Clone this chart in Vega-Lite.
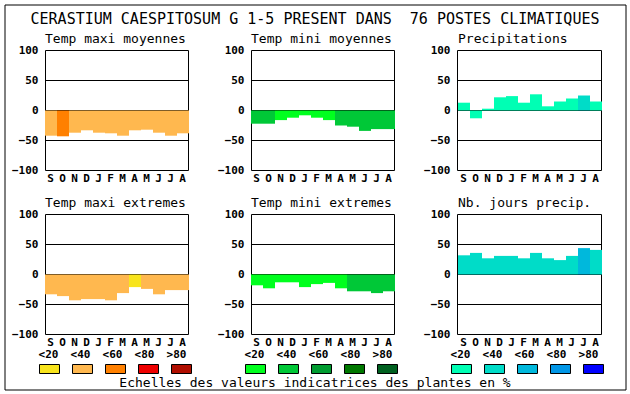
{
"$schema": "https://vega.github.io/schema/vega-lite/v6.json",
"width": 630, "height": 394,
"autosize": {"type": "fit", "contains": "padding"},
"padding": {"left": 4.5, "top": 4.5, "right": 4.5, "bottom": 4.5},
"background": "white",
"config": {
 "view": {"stroke": "black", "strokeWidth": 1},
 "axis": {"translate": 0, "zindex": 1, "grid": false, "domainColor": "black", "domainWidth": 1, "tickColor": "black", "tickWidth": 1, "labelColor": "black", "labelFont": "DejaVu Sans Mono", "labelFontWeight": "bold", "labelFontSize": 11, "titleFont": "DejaVu Sans Mono", "titleFontWeight": "normal", "titleFontSize": 13, "titleColor": "black", "labelAngle": 0}
},
"datasets": {
 "mesures": [
  {"panneau":"Temp maxi moyennes","mois":"Sep","valeur":-42,"classe":"<40"},
  {"panneau":"Temp maxi moyennes","mois":"Oct","valeur":-43,"classe":"<60"},
  {"panneau":"Temp maxi moyennes","mois":"Nov","valeur":-37,"classe":"<40"},
  {"panneau":"Temp maxi moyennes","mois":"Dec","valeur":-33,"classe":"<40"},
  {"panneau":"Temp maxi moyennes","mois":"Jan","valeur":-37,"classe":"<40"},
  {"panneau":"Temp maxi moyennes","mois":"Fev","valeur":-38,"classe":"<40"},
  {"panneau":"Temp maxi moyennes","mois":"Mar","valeur":-42,"classe":"<40"},
  {"panneau":"Temp maxi moyennes","mois":"Avr","valeur":-33,"classe":"<40"},
  {"panneau":"Temp maxi moyennes","mois":"Mai","valeur":-32,"classe":"<40"},
  {"panneau":"Temp maxi moyennes","mois":"Jun","valeur":-37,"classe":"<40"},
  {"panneau":"Temp maxi moyennes","mois":"Jul","valeur":-42,"classe":"<40"},
  {"panneau":"Temp maxi moyennes","mois":"Aou","valeur":-38,"classe":"<40"},
  {"panneau":"Temp mini moyennes","mois":"Sep","valeur":-22,"classe":"<40"},
  {"panneau":"Temp mini moyennes","mois":"Oct","valeur":-22,"classe":"<40"},
  {"panneau":"Temp mini moyennes","mois":"Nov","valeur":-16,"classe":"<20"},
  {"panneau":"Temp mini moyennes","mois":"Dec","valeur":-12,"classe":"<20"},
  {"panneau":"Temp mini moyennes","mois":"Jan","valeur":-8,"classe":"<20"},
  {"panneau":"Temp mini moyennes","mois":"Fev","valeur":-12,"classe":"<20"},
  {"panneau":"Temp mini moyennes","mois":"Mar","valeur":-16,"classe":"<20"},
  {"panneau":"Temp mini moyennes","mois":"Avr","valeur":-25,"classe":"<40"},
  {"panneau":"Temp mini moyennes","mois":"Mai","valeur":-27,"classe":"<40"},
  {"panneau":"Temp mini moyennes","mois":"Jun","valeur":-34,"classe":"<40"},
  {"panneau":"Temp mini moyennes","mois":"Jul","valeur":-31,"classe":"<40"},
  {"panneau":"Temp mini moyennes","mois":"Aou","valeur":-31,"classe":"<40"},
  {"panneau":"Precipitations","mois":"Sep","valeur":13,"classe":"<20"},
  {"panneau":"Precipitations","mois":"Oct","valeur":-13,"classe":"<20"},
  {"panneau":"Precipitations","mois":"Nov","valeur":3,"classe":"<20"},
  {"panneau":"Precipitations","mois":"Dec","valeur":22,"classe":"<20"},
  {"panneau":"Precipitations","mois":"Jan","valeur":24,"classe":"<20"},
  {"panneau":"Precipitations","mois":"Fev","valeur":13,"classe":"<20"},
  {"panneau":"Precipitations","mois":"Mar","valeur":27,"classe":"<20"},
  {"panneau":"Precipitations","mois":"Avr","valeur":7,"classe":"<20"},
  {"panneau":"Precipitations","mois":"Mai","valeur":15,"classe":"<20"},
  {"panneau":"Precipitations","mois":"Jun","valeur":20,"classe":"<20"},
  {"panneau":"Precipitations","mois":"Jul","valeur":25,"classe":"<40"},
  {"panneau":"Precipitations","mois":"Aou","valeur":15,"classe":"<20"},
  {"panneau":"Temp maxi extremes","mois":"Sep","valeur":-33,"classe":"<40"},
  {"panneau":"Temp maxi extremes","mois":"Oct","valeur":-36,"classe":"<40"},
  {"panneau":"Temp maxi extremes","mois":"Nov","valeur":-43,"classe":"<40"},
  {"panneau":"Temp maxi extremes","mois":"Dec","valeur":-41,"classe":"<40"},
  {"panneau":"Temp maxi extremes","mois":"Jan","valeur":-41,"classe":"<40"},
  {"panneau":"Temp maxi extremes","mois":"Fev","valeur":-43,"classe":"<40"},
  {"panneau":"Temp maxi extremes","mois":"Mar","valeur":-31,"classe":"<40"},
  {"panneau":"Temp maxi extremes","mois":"Avr","valeur":-21,"classe":"<20"},
  {"panneau":"Temp maxi extremes","mois":"Mai","valeur":-24,"classe":"<40"},
  {"panneau":"Temp maxi extremes","mois":"Jun","valeur":-33,"classe":"<40"},
  {"panneau":"Temp maxi extremes","mois":"Jul","valeur":-26,"classe":"<40"},
  {"panneau":"Temp maxi extremes","mois":"Aou","valeur":-26,"classe":"<40"},
  {"panneau":"Temp mini extremes","mois":"Sep","valeur":-18,"classe":"<20"},
  {"panneau":"Temp mini extremes","mois":"Oct","valeur":-23,"classe":"<20"},
  {"panneau":"Temp mini extremes","mois":"Nov","valeur":-13,"classe":"<20"},
  {"panneau":"Temp mini extremes","mois":"Dec","valeur":-13,"classe":"<20"},
  {"panneau":"Temp mini extremes","mois":"Jan","valeur":-21,"classe":"<20"},
  {"panneau":"Temp mini extremes","mois":"Fev","valeur":-16,"classe":"<20"},
  {"panneau":"Temp mini extremes","mois":"Mar","valeur":-14,"classe":"<20"},
  {"panneau":"Temp mini extremes","mois":"Avr","valeur":-23,"classe":"<20"},
  {"panneau":"Temp mini extremes","mois":"Mai","valeur":-28,"classe":"<40"},
  {"panneau":"Temp mini extremes","mois":"Jun","valeur":-28,"classe":"<40"},
  {"panneau":"Temp mini extremes","mois":"Jul","valeur":-31,"classe":"<40"},
  {"panneau":"Temp mini extremes","mois":"Aou","valeur":-28,"classe":"<40"},
  {"panneau":"Nb. jours precip.","mois":"Sep","valeur":32,"classe":"<40"},
  {"panneau":"Nb. jours precip.","mois":"Oct","valeur":36,"classe":"<40"},
  {"panneau":"Nb. jours precip.","mois":"Nov","valeur":27,"classe":"<40"},
  {"panneau":"Nb. jours precip.","mois":"Dec","valeur":31,"classe":"<40"},
  {"panneau":"Nb. jours precip.","mois":"Jan","valeur":31,"classe":"<40"},
  {"panneau":"Nb. jours precip.","mois":"Fev","valeur":27,"classe":"<40"},
  {"panneau":"Nb. jours precip.","mois":"Mar","valeur":36,"classe":"<40"},
  {"panneau":"Nb. jours precip.","mois":"Avr","valeur":27,"classe":"<40"},
  {"panneau":"Nb. jours precip.","mois":"Mai","valeur":24,"classe":"<40"},
  {"panneau":"Nb. jours precip.","mois":"Jun","valeur":31,"classe":"<40"},
  {"panneau":"Nb. jours precip.","mois":"Jul","valeur":44,"classe":"<60"},
  {"panneau":"Nb. jours precip.","mois":"Aou","valeur":41,"classe":"<40"}
 ],
 "classes": [{"classe":"<20"},{"classe":"<40"},{"classe":"<60"},{"classe":"<80"},{"classe":">80"}]
},
"layer": [
 {"data":{"name":"mesures"},"transform":[{"filter":"datum.panneau === 'Temp maxi moyennes'"}],"mark":{"type":"bar"},
  "encoding":{
   "x":{"field":"mois","type":"ordinal","scale":{"type":"band","domain":["Sep","Oct","Nov","Dec","Jan","Fev","Mar","Avr","Mai","Jun","Jul","Aou"],"range":[40.5,184.5],"paddingInner":0,"paddingOuter":0},"axis":{"orient":"bottom","offset":-219,"title":null,"domain":false,"ticks":false,"labelPadding":2,"labelExpr":"substring(datum.label,0,1)"}},
   "y":{"field":"valeur","type":"quantitative","scale":{"domain":[-100,100],"range":[166,46],"nice":false,"zero":false},"axis":{"orient":"left","offset":-41,"title":null,"values":[-100,-50,0,50,100],"tickSize":-143,"labelPadding":150,"domain":true}},
   "color":{"field":"classe","type":"nominal","scale":{"domain":["<20","<40","<60","<80",">80"],"range":["#F8E41C","#FFB84F","#FF8000","#EE0000","#B00E00"]},"legend":null}}},
 {"data":{"name":"mesures"},"transform":[{"filter":"datum.panneau === 'Temp maxi moyennes'"}],"mark":{"type":"bar","opacity":0},
  "encoding":{
   "x":{"field":"mois","type":"ordinal","scale":{"type":"band","domain":["Sep","Oct","Nov","Dec","Jan","Fev","Mar","Avr","Mai","Jun","Jul","Aou"],"range":[40.5,184.5],"paddingInner":0,"paddingOuter":0},"axis":{"orient":"top","offset":-46,"title":"Temp maxi moyennes","titleAnchor":"start","titlePadding":5,"labels":false,"ticks":false,"domain":false}},
   "y":{"field":"valeur","type":"quantitative","scale":{"domain":[-100,100],"range":[166,46],"nice":false,"zero":false},"axis":{"orient":"left","offset":-184,"title":null,"labels":false,"ticks":false,"domain":true}}}},

 {"data":{"name":"mesures"},"transform":[{"filter":"datum.panneau === 'Temp mini moyennes'"}],"mark":{"type":"bar"},
  "encoding":{
   "x":{"field":"mois","type":"ordinal","scale":{"type":"band","domain":["Sep","Oct","Nov","Dec","Jan","Fev","Mar","Avr","Mai","Jun","Jul","Aou"],"range":[246.5,390.5],"paddingInner":0,"paddingOuter":0},"axis":{"orient":"bottom","offset":-219,"title":null,"domain":false,"ticks":false,"labelPadding":2,"labelExpr":"substring(datum.label,0,1)"}},
   "y":{"field":"valeur","type":"quantitative","scale":{"domain":[-100,100],"range":[166,46],"nice":false,"zero":false},"axis":{"orient":"left","offset":-247,"title":null,"values":[-100,-50,0,50,100],"tickSize":-143,"labelPadding":150,"domain":true}},
   "color":{"field":"classe","type":"nominal","scale":{"domain":["<20","<40","<60","<80",">80"],"range":["#00FF1E","#00C837","#009C30","#007800","#006020"]},"legend":null}}},
 {"data":{"name":"mesures"},"transform":[{"filter":"datum.panneau === 'Temp mini moyennes'"}],"mark":{"type":"bar","opacity":0},
  "encoding":{
   "x":{"field":"mois","type":"ordinal","scale":{"type":"band","domain":["Sep","Oct","Nov","Dec","Jan","Fev","Mar","Avr","Mai","Jun","Jul","Aou"],"range":[246.5,390.5],"paddingInner":0,"paddingOuter":0},"axis":{"orient":"top","offset":-46,"title":"Temp mini moyennes","titleAnchor":"start","titlePadding":5,"labels":false,"ticks":false,"domain":false}},
   "y":{"field":"valeur","type":"quantitative","scale":{"domain":[-100,100],"range":[166,46],"nice":false,"zero":false},"axis":{"orient":"left","offset":-390,"title":null,"labels":false,"ticks":false,"domain":true}}}},

 {"data":{"name":"mesures"},"transform":[{"filter":"datum.panneau === 'Precipitations'"}],"mark":{"type":"bar"},
  "encoding":{
   "x":{"field":"mois","type":"ordinal","scale":{"type":"band","domain":["Sep","Oct","Nov","Dec","Jan","Fev","Mar","Avr","Mai","Jun","Jul","Aou"],"range":[453.5,597.5],"paddingInner":0,"paddingOuter":0},"axis":{"orient":"bottom","offset":-219,"title":null,"domain":false,"ticks":false,"labelPadding":2,"labelExpr":"substring(datum.label,0,1)"}},
   "y":{"field":"valeur","type":"quantitative","scale":{"domain":[-100,100],"range":[166,46],"nice":false,"zero":false},"axis":{"orient":"left","offset":-453,"title":null,"values":[-100,-50,0,50,100],"tickSize":-144,"labelPadding":151,"domain":true}},
   "color":{"field":"classe","type":"nominal","scale":{"domain":["<20","<40","<60","<80",">80"],"range":["#00FFB4","#00DCC8","#00B8DC","#0096E6","#0000FF"]},"legend":null}}},
 {"data":{"name":"mesures"},"transform":[{"filter":"datum.panneau === 'Precipitations'"}],"mark":{"type":"bar","opacity":0},
  "encoding":{
   "x":{"field":"mois","type":"ordinal","scale":{"type":"band","domain":["Sep","Oct","Nov","Dec","Jan","Fev","Mar","Avr","Mai","Jun","Jul","Aou"],"range":[453.5,597.5],"paddingInner":0,"paddingOuter":0},"axis":{"orient":"top","offset":-46,"title":"Precipitations","titleAnchor":"start","titlePadding":5,"labels":false,"ticks":false,"domain":false}},
   "y":{"field":"valeur","type":"quantitative","scale":{"domain":[-100,100],"range":[166,46],"nice":false,"zero":false},"axis":{"orient":"left","offset":-597,"title":null,"labels":false,"ticks":false,"domain":true}}}},

 {"data":{"name":"mesures"},"transform":[{"filter":"datum.panneau === 'Temp maxi extremes'"}],"mark":{"type":"bar"},
  "encoding":{
   "x":{"field":"mois","type":"ordinal","scale":{"type":"band","domain":["Sep","Oct","Nov","Dec","Jan","Fev","Mar","Avr","Mai","Jun","Jul","Aou"],"range":[40.5,184.5],"paddingInner":0,"paddingOuter":0},"axis":{"orient":"bottom","offset":-55,"title":null,"domain":false,"ticks":false,"labelPadding":2,"labelExpr":"substring(datum.label,0,1)"}},
   "y":{"field":"valeur","type":"quantitative","scale":{"domain":[-100,100],"range":[330,210],"nice":false,"zero":false},"axis":{"orient":"left","offset":-41,"title":null,"values":[-100,-50,0,50,100],"tickSize":-143,"labelPadding":150,"domain":true}},
   "color":{"field":"classe","type":"nominal","scale":{"domain":["<20","<40","<60","<80",">80"],"range":["#F8E41C","#FFB84F","#FF8000","#EE0000","#B00E00"]},"legend":null}}},
 {"data":{"name":"mesures"},"transform":[{"filter":"datum.panneau === 'Temp maxi extremes'"}],"mark":{"type":"bar","opacity":0},
  "encoding":{
   "x":{"field":"mois","type":"ordinal","scale":{"type":"band","domain":["Sep","Oct","Nov","Dec","Jan","Fev","Mar","Avr","Mai","Jun","Jul","Aou"],"range":[40.5,184.5],"paddingInner":0,"paddingOuter":0},"axis":{"orient":"top","offset":-210,"title":"Temp maxi extremes","titleAnchor":"start","titlePadding":5,"labels":false,"ticks":false,"domain":false}},
   "y":{"field":"valeur","type":"quantitative","scale":{"domain":[-100,100],"range":[330,210],"nice":false,"zero":false},"axis":{"orient":"left","offset":-184,"title":null,"labels":false,"ticks":false,"domain":true}}}},

 {"data":{"name":"mesures"},"transform":[{"filter":"datum.panneau === 'Temp mini extremes'"}],"mark":{"type":"bar"},
  "encoding":{
   "x":{"field":"mois","type":"ordinal","scale":{"type":"band","domain":["Sep","Oct","Nov","Dec","Jan","Fev","Mar","Avr","Mai","Jun","Jul","Aou"],"range":[246.5,390.5],"paddingInner":0,"paddingOuter":0},"axis":{"orient":"bottom","offset":-55,"title":null,"domain":false,"ticks":false,"labelPadding":2,"labelExpr":"substring(datum.label,0,1)"}},
   "y":{"field":"valeur","type":"quantitative","scale":{"domain":[-100,100],"range":[330,210],"nice":false,"zero":false},"axis":{"orient":"left","offset":-247,"title":null,"values":[-100,-50,0,50,100],"tickSize":-143,"labelPadding":150,"domain":true}},
   "color":{"field":"classe","type":"nominal","scale":{"domain":["<20","<40","<60","<80",">80"],"range":["#00FF1E","#00C837","#009C30","#007800","#006020"]},"legend":null}}},
 {"data":{"name":"mesures"},"transform":[{"filter":"datum.panneau === 'Temp mini extremes'"}],"mark":{"type":"bar","opacity":0},
  "encoding":{
   "x":{"field":"mois","type":"ordinal","scale":{"type":"band","domain":["Sep","Oct","Nov","Dec","Jan","Fev","Mar","Avr","Mai","Jun","Jul","Aou"],"range":[246.5,390.5],"paddingInner":0,"paddingOuter":0},"axis":{"orient":"top","offset":-210,"title":"Temp mini extremes","titleAnchor":"start","titlePadding":5,"labels":false,"ticks":false,"domain":false}},
   "y":{"field":"valeur","type":"quantitative","scale":{"domain":[-100,100],"range":[330,210],"nice":false,"zero":false},"axis":{"orient":"left","offset":-390,"title":null,"labels":false,"ticks":false,"domain":true}}}},

 {"data":{"name":"mesures"},"transform":[{"filter":"datum.panneau === 'Nb. jours precip.'"}],"mark":{"type":"bar"},
  "encoding":{
   "x":{"field":"mois","type":"ordinal","scale":{"type":"band","domain":["Sep","Oct","Nov","Dec","Jan","Fev","Mar","Avr","Mai","Jun","Jul","Aou"],"range":[453.5,597.5],"paddingInner":0,"paddingOuter":0},"axis":{"orient":"bottom","offset":-55,"title":null,"domain":false,"ticks":false,"labelPadding":2,"labelExpr":"substring(datum.label,0,1)"}},
   "y":{"field":"valeur","type":"quantitative","scale":{"domain":[-100,100],"range":[330,210],"nice":false,"zero":false},"axis":{"orient":"left","offset":-453,"title":null,"values":[-100,-50,0,50,100],"tickSize":-144,"labelPadding":151,"domain":true}},
   "color":{"field":"classe","type":"nominal","scale":{"domain":["<20","<40","<60","<80",">80"],"range":["#00FFB4","#00DCC8","#00B8DC","#0096E6","#0000FF"]},"legend":null}}},
 {"data":{"name":"mesures"},"transform":[{"filter":"datum.panneau === 'Nb. jours precip.'"}],"mark":{"type":"bar","opacity":0},
  "encoding":{
   "x":{"field":"mois","type":"ordinal","scale":{"type":"band","domain":["Sep","Oct","Nov","Dec","Jan","Fev","Mar","Avr","Mai","Jun","Jul","Aou"],"range":[453.5,597.5],"paddingInner":0,"paddingOuter":0},"axis":{"orient":"top","offset":-210,"title":"Nb. jours precip.","titleAnchor":"start","titlePadding":5,"labels":false,"ticks":false,"domain":false}},
   "y":{"field":"valeur","type":"quantitative","scale":{"domain":[-100,100],"range":[330,210],"nice":false,"zero":false},"axis":{"orient":"left","offset":-597,"title":null,"labels":false,"ticks":false,"domain":true}}}},

 {"data":{"name":"classes"},"mark":{"type":"rect","stroke":"black","strokeWidth":1},
  "encoding":{
   "x":{"field":"classe","type":"ordinal","scale":{"type":"band","domain":["<20","<40","<60","<80",">80"],"range":[35,187],"paddingInner":0.39394,"paddingOuter":0},"axis":null},
   "y":{"datum":0,"type":"quantitative","scale":{"domain":[0,1],"range":[369,360]},"axis":null},
   "y2":{"datum":1},
   "color":{"field":"classe","type":"nominal","scale":{"domain":["<20","<40","<60","<80",">80"],"range":["#F8E41C","#FFB84F","#FF8000","#EE0000","#B00E00"]},"legend":null}}},
 {"data":{"name":"classes"},"mark":{"type":"rect","stroke":"black","strokeWidth":1},
  "encoding":{
   "x":{"field":"classe","type":"ordinal","scale":{"type":"band","domain":["<20","<40","<60","<80",">80"],"range":[241,393],"paddingInner":0.39394,"paddingOuter":0},"axis":null},
   "y":{"datum":0,"type":"quantitative","scale":{"domain":[0,1],"range":[369,360]},"axis":null},
   "y2":{"datum":1},
   "color":{"field":"classe","type":"nominal","scale":{"domain":["<20","<40","<60","<80",">80"],"range":["#00FF1E","#00C837","#009C30","#007800","#006020"]},"legend":null}}},
 {"data":{"name":"classes"},"mark":{"type":"rect","stroke":"black","strokeWidth":1},
  "encoding":{
   "x":{"field":"classe","type":"ordinal","scale":{"type":"band","domain":["<20","<40","<60","<80",">80"],"range":[447,599],"paddingInner":0.39394,"paddingOuter":0},"axis":null},
   "y":{"datum":0,"type":"quantitative","scale":{"domain":[0,1],"range":[369,360]},"axis":null},
   "y2":{"datum":1},
   "color":{"field":"classe","type":"nominal","scale":{"domain":["<20","<40","<60","<80",">80"],"range":["#00FFB4","#00DCC8","#00B8DC","#0096E6","#0000FF"]},"legend":null}}},

 {"data":{"name":"classes"},"mark":{"type":"point","opacity":0},
  "encoding":{"x":{"field":"classe","type":"ordinal","scale":{"type":"band","domain":["<20","<40","<60","<80",">80"],"range":[28.5,188.5],"paddingInner":0,"paddingOuter":0},"axis":{"orient":"top","offset":-354,"title":null,"domain":false,"ticks":false,"labelPadding":3.5,"labelBaseline":"middle"}}}},
 {"data":{"name":"classes"},"mark":{"type":"point","opacity":0},
  "encoding":{"x":{"field":"classe","type":"ordinal","scale":{"type":"band","domain":["<20","<40","<60","<80",">80"],"range":[234.5,394.5],"paddingInner":0,"paddingOuter":0},"axis":{"orient":"top","offset":-354,"title":null,"domain":false,"ticks":false,"labelPadding":3.5,"labelBaseline":"middle"}}}},
 {"data":{"name":"classes"},"mark":{"type":"point","opacity":0},
  "encoding":{"x":{"field":"classe","type":"ordinal","scale":{"type":"band","domain":["<20","<40","<60","<80",">80"],"range":[440.5,600.5],"paddingInner":0,"paddingOuter":0},"axis":{"orient":"top","offset":-354,"title":null,"domain":false,"ticks":false,"labelPadding":3.5,"labelBaseline":"middle"}}}},

 {"data":{"name":"classes"},"mark":{"type":"point","opacity":0},
  "encoding":{"x":{"field":"classe","type":"ordinal","scale":{"type":"band","domain":["<20","<40","<60","<80",">80"],"range":[0,621]},"axis":{"orient":"top","offset":-22,"title":"CERASTIUM CAESPITOSUM G 1-5 PRESENT DANS \u00a076 POSTES CLIMATIQUES","titleFontSize":15,"titlePadding":0,"labels":false,"ticks":false,"domain":false}}}},
 {"data":{"name":"classes"},"mark":{"type":"point","opacity":0},
  "encoding":{"x":{"field":"classe","type":"ordinal","scale":{"type":"band","domain":["<20","<40","<60","<80",">80"],"range":[0,621]},"axis":{"orient":"bottom","offset":-13,"title":"Echelles des valeurs indicatrices des plantes en %","titlePadding":0,"labels":false,"ticks":false,"domain":false}}}}
],
"resolve": {"scale": {"x": "independent", "y": "independent", "color": "independent"}, "axis": {"x": "independent", "y": "independent"}}
}
